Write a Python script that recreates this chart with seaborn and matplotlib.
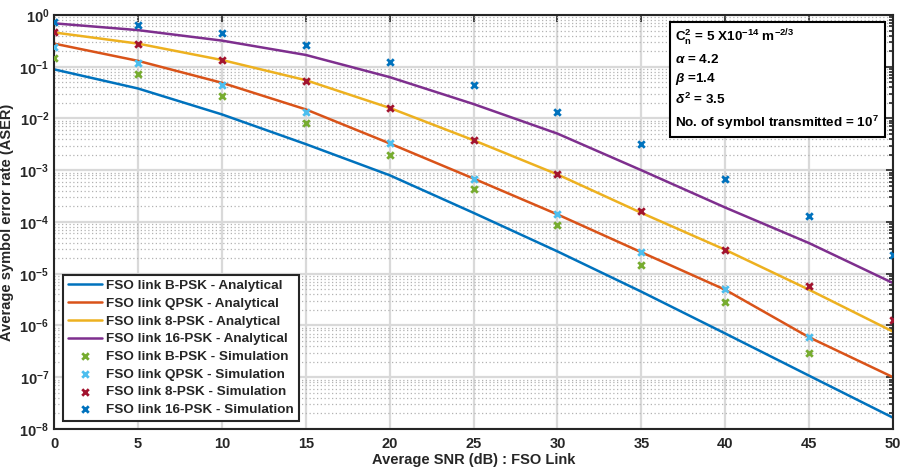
import numpy as np
import pandas as pd
import seaborn as sns
import matplotlib.pyplot as plt
from matplotlib.ticker import LogLocator, NullFormatter, FixedLocator

sns.set_theme(style="white")
plt.rcParams['font.family'] = ['Liberation Sans', 'DejaVu Sans']
plt.rcParams['font.weight'] = 'bold'
plt.rcParams['mathtext.fontset'] = 'custom'
plt.rcParams['mathtext.rm'] = 'Liberation Sans:bold'
plt.rcParams['mathtext.bf'] = 'Liberation Sans:bold'
plt.rcParams['mathtext.it'] = 'Liberation Sans:italic:bold'
plt.rcParams['mathtext.default'] = 'bf'

snr = [0, 5, 10, 15, 20, 25, 30, 35, 40, 45, 50]

# analytical curves
bpsk_an = [0.089, 0.038, 0.012, 3.2e-3, 8.0e-4, 1.5e-4, 2.7e-5, 4.5e-6, 7.0e-7, 1.07e-7, 1.65e-8]
qpsk_an = [0.28, 0.13, 0.049, 0.015, 3.3e-3, 6.9e-4, 1.4e-4, 2.6e-5, 4.9e-6, 5.9e-7, 1.0e-7]
psk8_an = [0.46, 0.28, 0.135, 0.055, 0.016, 3.8e-3, 8.3e-4, 1.5e-4, 2.9e-5, 4.9e-6, 7.6e-7]
psk16_an = [0.69, 0.51, 0.32, 0.169, 0.063, 0.019, 5.1e-3, 1.0e-3, 1.9e-4, 3.9e-5, 6.6e-6]

# simulation points
snr_sim = [0, 5, 10, 15, 20, 25, 30, 35, 40, 45]
bpsk_sim = [0.146, 0.071, 0.027, 8.1e-3, 2.0e-3, 4.4e-4, 8.7e-5, 1.5e-5, 2.8e-6, 3.0e-7]
qpsk_sim = [0.24, 0.116, 0.044, 0.0136, 3.3e-3, 6.9e-4, 1.4e-4, 2.6e-5, 5.0e-6, 5.9e-7]
psk8_sim = [0.46, 0.28, 0.135, 0.052, 0.016, 3.9e-3, 8.3e-4, 1.6e-4, 2.9e-5, 5.8e-6, 1.28e-6]
psk16_sim = [0.74, 0.64, 0.44, 0.26, 0.122, 0.044, 0.0134, 3.2e-3, 6.7e-4, 1.3e-4, 2.3e-5]

lines = [
    ("FSO link B-PSK - Analytical", bpsk_an, "#0072BD"),
    ("FSO link QPSK - Analytical", qpsk_an, "#D95319"),
    ("FSO link 8-PSK - Analytical", psk8_an, "#EDB120"),
    ("FSO link 16-PSK - Analytical", psk16_an, "#7E2F8E"),
]
points = [
    ("FSO link B-PSK - Simulation", snr_sim, bpsk_sim, "#77AC30"),
    ("FSO link QPSK - Simulation", snr_sim, qpsk_sim, "#4DBEEE"),
    ("FSO link 8-PSK - Simulation", snr, psk8_sim, "#A2142F"),
    ("FSO link 16-PSK - Simulation", snr, psk16_sim, "#0072BD"),
]

fig = plt.figure(figsize=(9.02, 4.71), dpi=100)
ax = fig.add_axes([0.0599, 0.0892, 0.9302, 0.8790])

for name, y, c in lines:
    sns.lineplot(x=snr, y=y, label=name, color=c, linewidth=1.8, ax=ax)
for name, x, y, c in points:
    sns.scatterplot(x=x, y=y, label=name, color=c, marker='x', s=22,
                    linewidth=2, ax=ax, zorder=3)

ax.set_yscale('log')
ax.set_xlim(0, 50)
ax.set_ylim(1e-8, 1)
ax.xaxis.set_major_locator(FixedLocator(snr))
ax.yaxis.set_major_locator(LogLocator(base=10, numticks=12))
ax.yaxis.set_minor_locator(LogLocator(base=10, subs=np.arange(2, 10), numticks=12))
ax.yaxis.set_minor_formatter(NullFormatter())

ax.grid(True, which='major', color='#d9d9d9', linewidth=1.6, linestyle='-')
ax.grid(True, which='minor', axis='y', color='#b3b3b3', linewidth=0.9, linestyle=(0, (1, 2)))
ax.set_axisbelow(True)

ax.tick_params(which='both', direction='in', top=True, right=True, colors='#262626',
               labelsize=10.5, width=1.2)
ax.tick_params(which='major', length=5)
ax.tick_params(which='minor', length=3)
ax.tick_params(axis='x', which='major', pad=6)
ax.tick_params(axis='x', which='minor', top=False, bottom=False)
for s in ax.spines.values():
    s.set_color('#262626')
    s.set_linewidth(1.5)

ax.set_xlabel("Average SNR (dB) : FSO Link", fontsize=10.5, fontweight='bold',
              color='#262626', labelpad=1)
ax.set_ylabel("Average symbol error rate (ASER)", fontsize=10.5, fontweight='bold',
              color='#262626', labelpad=4)

leg = ax.legend(loc='lower left', bbox_to_anchor=(0.011, 0.02), borderaxespad=0,
                prop={'weight': 'bold', 'size': 9.7}, labelspacing=0.39,
                handlelength=2.5, handletextpad=0.35, fancybox=False, framealpha=1,
                edgecolor='#262626', borderpad=0.35)
leg.get_frame().set_linewidth(1.5)

info = ("C$_n^2$ = 5 X10$^{-14}$ m$^{-2/3}$\n"
        "$\\mathit{\\alpha}$ = 4.2\n"
        "$\\mathit{\\beta}$ =1.4\n"
        "$\\mathit{\\delta}^2$ = 3.5\n"
        "No. of symbol transmitted = 10$^7$")
ax.text(0.7405, 0.968, info, transform=ax.transAxes, ha='left', va='top',
        fontsize=9.7, fontweight='bold', color='black', linespacing=1.45,
        bbox=dict(boxstyle='square,pad=0.4', facecolor='white',
                  edgecolor='black', linewidth=1.5))

plt.savefig("out.png", dpi=100)
